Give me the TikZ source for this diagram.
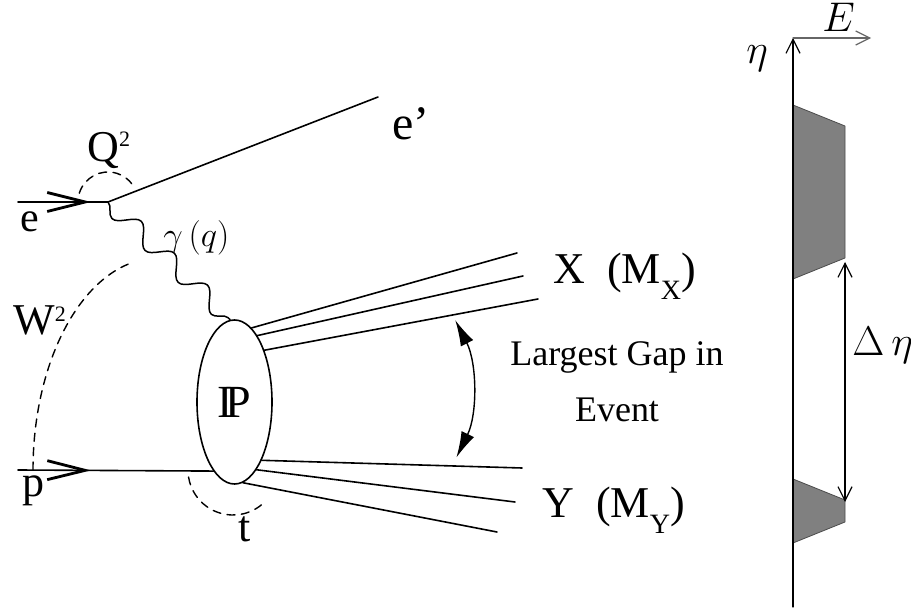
\documentclass[tikz,border=0pt]{standalone}
\usepackage{fontspec}
\setmainfont{Liberation Serif}
\usetikzlibrary{arrows.meta,decorations.pathmorphing,decorations.markings,shapes.geometric}

\begin{document}
\begin{tikzpicture}[
  x=0.5pt,y=-0.5pt,
  line cap=round,
  line join=round,
  fermion/.style={draw=black,line width=0.8pt},
  inarrow/.style={postaction={decorate},decoration={markings,
    mark=at position 36.5pt with {\arrow{Straight Barb[length=19pt,width=9.5pt,line width=1.4pt]}}}},
  photon/.style={draw=black,line width=0.75pt,decorate,
    decoration={snake,amplitude=4.6pt,segment length=23pt,mirror}},
  jet/.style={draw=black,line width=0.8pt},
  dashline/.style={draw=black,line width=0.7pt,dash pattern=on 4pt off 3.2pt},
  blob/.style={ellipse,draw=black,fill=white,line width=0.8pt,
    minimum width=37.5pt,minimum height=82pt,inner sep=0pt},
  lbl/.style={font=\fontsize{22}{24}\selectfont,inner sep=0pt,anchor=base west},
  mlbl/.style={font=\fontsize{20}{22}\selectfont,inner sep=0pt,anchor=base west},
  gaptext/.style={font=\fontsize{18}{20}\selectfont,inner sep=0pt,anchor=base},
  gaparrow/.style={draw=black,line width=0.7pt,
    {Latex[length=13pt,width=7pt]}-{Latex[length=13pt,width=7pt]}},
  axis/.style={draw=black,line width=0.6pt},
  openarr/.style={-{Straight Barb[length=7pt,width=7pt]}},
  deposit/.style={fill=black!50,draw=black!70,line width=0.4pt}
]
  \useasboundingbox (0,0) rectangle (911,609);

  % Vertices and free ends
  \coordinate (eIn) at (18,202);
  \coordinate (eVtx) at (108,202);
  \coordinate (eOut) at (378,97);
  \coordinate (pIn) at (18,470);

  % Pomeron blob
  \node[blob] (pom) at (234.5,402) {\fontsize{23}{25}\selectfont I\kern-0.17em P};

  % Lepton side
  \draw[fermion,inarrow] (eIn) -- (eVtx);
  \draw[fermion] (eVtx) -- (eOut);
  \draw[photon] (eVtx) -- (pom.93);

  % Proton side
  \draw[fermion,inarrow] (pIn) -- (pom.253);

  % Outgoing systems X and Y
  \foreach \a/\x/\y [count=\i] in {77/517/253, 71/523/276, 60/538/299,
                                  -65/522/468, -72/515/502, -84/497/532} {
    \coordinate (jet\i) at (\x,\y);
    \draw[jet] (pom.\a) -- (jet\i);
  }

  % Kinematic arcs
  \coordinate (wC) at (158,470);
  \coordinate (tC) at (233,470);
  \draw[dashline] ([shift={(197:30)}]eVtx) arc[start angle=197,end angle=325,radius=30];
  \draw[dashline] ([shift={(180:125 and 212)}]wC) arc[start angle=180,end angle=257,x radius=125,y radius=212];
  \draw[dashline] ([shift={(171:45)}]tC) arc[start angle=171,end angle=45,radius=45];

  % Rapidity gap
  \coordinate (gapC) at (318,390);
  \draw[gaparrow] ([shift={(-27:154)}]gapC) arc[start angle=-27,end angle=26,radius=154];

  % Labels
  \node[lbl,font=\fontsize{24}{26}\selectfont] (eOutLbl) at (392,140) {e’};
  \node[lbl,font=\fontsize{21}{23}\selectfont] (eInLbl) at (20,232) {e};
  \node[lbl] (qLbl) at (87,162) {Q\raisebox{7.5pt}{\fontsize{11}{11}\selectfont 2}};
  \node[lbl] (wLbl) at (13,335) {W\raisebox{6.5pt}{\fontsize{11}{11}\selectfont 2}};
  \node[lbl] (pLbl) at (22,496) {p};
  \node[lbl] (tLbl) at (238,541) {t};
  \node[mlbl,font=\fontsize{18}{20}\selectfont] (gLbl) at (163,247) {$\gamma\,(q)$};
  \node[lbl] (xLbl) at (553,284) {X\ \ (M\raisebox{-8pt}{\fontsize{14}{14}\selectfont X})};
  \node[lbl] (yLbl) at (542,517) {Y\ \ (M\raisebox{-8pt}{\fontsize{14}{14}\selectfont Y})};
  \node[gaptext] (gapLbl1) at (617,365) {Largest Gap in};
  \node[gaptext] (gapLbl2) at (617,422) {Event};

  % Energy flow against pseudorapidity
  \coordinate (etaBot) at (793,607);
  \coordinate (orig) at (793,38);
  \coordinate (eEnd) at (871,38);
  \coordinate (gapHi) at (845,262);
  \coordinate (gapLo) at (845,502);
  \draw[deposit] (793,105) -- (845,126) -- (845,258) -- (793,279) -- cycle;
  \draw[deposit] (793,479) -- (845,500) -- (845,522) -- (793,543) -- cycle;
  \draw[axis,openarr] (etaBot) -- (orig);
  \draw[axis,openarr,draw=black!60] (orig) -- (eEnd);
  \draw[axis,{Straight Barb[length=7pt,width=7pt]}-{Straight Barb[length=7pt,width=7pt]}] (gapHi) -- (gapLo);
  \node[mlbl] (etaLbl) at (746,64) {$\eta$};
  \node[mlbl] (enLbl) at (822,32) {$E$};
  \node[mlbl] (detaLbl) at (852,356) {$\Delta\,\eta$};
\end{tikzpicture}
\end{document}
